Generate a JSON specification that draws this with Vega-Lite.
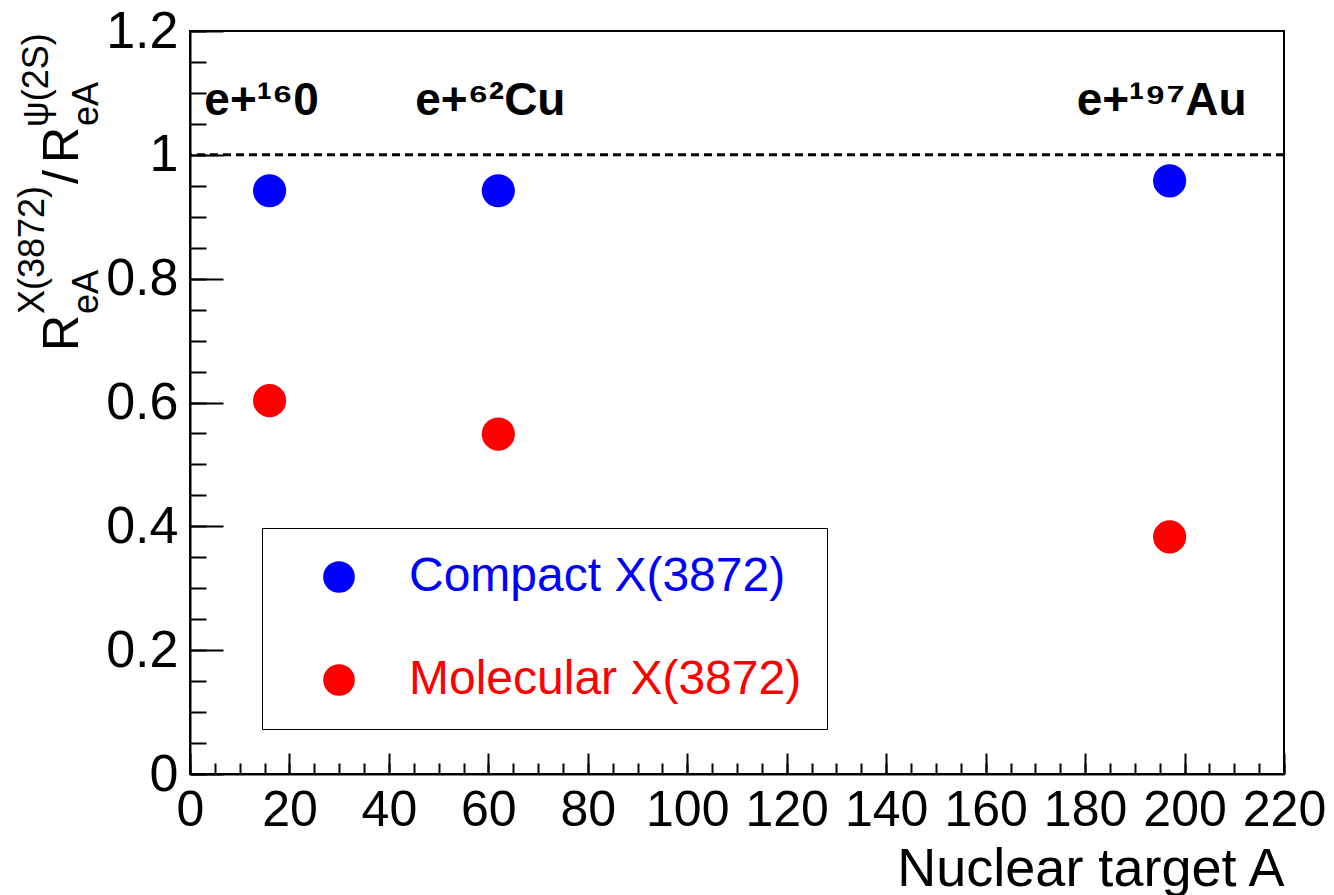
{
  "$schema": "https://vega.github.io/schema/vega-lite/v6.json",
  "width": 1094,
  "height": 743,
  "autosize": {"type": "none"},
  "padding": {"left": 190, "top": 31, "right": 50, "bottom": 121},
  "background": "white",
  "config": {
    "font": "Liberation Sans",
    "view": {"stroke": "black", "strokeWidth": 2},
    "axis": {"grid": false, "domainColor": "black", "domainWidth": 2, "tickColor": "black", "tickWidth": 2, "labelColor": "black", "labelFont": "Liberation Sans", "titleFont": "Liberation Sans", "titleColor": "black", "titleFontWeight": "normal"}
  },
  "datasets": {
    "points": [
      {"A": 16, "ratio": 0.942, "model": "Compact X(3872)"},
      {"A": 62, "ratio": 0.942, "model": "Compact X(3872)"},
      {"A": 197, "ratio": 0.958, "model": "Compact X(3872)"},
      {"A": 16, "ratio": 0.603, "model": "Molecular X(3872)"},
      {"A": 62, "ratio": 0.549, "model": "Molecular X(3872)"},
      {"A": 197, "ratio": 0.383, "model": "Molecular X(3872)"}
    ],
    "targets": [
      {"A": 16, "label": "e+¹⁶0"},
      {"A": 62, "label": "e+⁶²Cu"},
      {"A": 197, "label": "e+¹⁹⁷Au"}
    ]
  },
  "resolve": {"axis": {"x": "independent", "y": "independent"}},
  "layer": [
    {
      "data": {"name": "targets"},
      "mark": {"type": "text", "font": "Liberation Sans", "fontWeight": "bold", "fontSize": 46, "align": "center", "baseline": "alphabetic", "dx": -8, "color": "black"},
      "encoding": {
        "x": {"field": "A", "type": "quantitative", "scale": {"domain": [0, 220], "nice": false, "zero": false},
          "axis": {"orient": "bottom", "values": [0,5,10,15,20,25,30,35,40,45,50,55,60,65,70,75,80,85,90,95,100,105,110,115,120,125,130,135,140,145,150,155,160,165,170,175,180,185,190,195,200,205,210,215,220], "tickSize": -11, "labels": false, "domain": false, "title": null}},
        "y": {"datum": 1.064, "type": "quantitative", "scale": {"domain": [0, 1.2], "nice": false, "zero": false},
          "axis": {"orient": "left", "values": [0,0.05,0.1,0.15,0.2,0.25,0.3,0.35,0.4,0.45,0.5,0.55,0.6,0.65,0.7,0.75,0.8,0.85,0.9,0.95,1,1.05,1.1,1.15,1.2], "tickSize": -16, "labels": false, "domain": false, "title": null}},
        "text": {"field": "label"}
      }
    },
    {
      "data": {"values": [{}]},
      "mark": {"type": "rule", "color": "black", "strokeWidth": 3, "strokeDash": [8, 5]},
      "encoding": {"y": {"datum": 1, "type": "quantitative", "axis": null}}
    },
    {
      "data": {"name": "points"},
      "mark": {"type": "point", "filled": true, "size": 1100, "opacity": 1, "shape": "circle"},
      "encoding": {
        "x": {"field": "A", "type": "quantitative", "scale": {"domain": [0, 220], "nice": false, "zero": false},
          "axis": {"orient": "bottom", "values": [0,20,40,60,80,100,120,140,160,180,200,220], "tickSize": -21, "labelPadding": 32, "labelFontSize": 50, "labelFlush": false, "labelBaseline": "top", "format": "d", "title": "Nuclear target A", "titleFontSize": 54, "titleAnchor": "end", "titleAlign": "right", "titleBaseline": "alphabetic", "titleX": 1094, "titleY": 111}},
        "y": {"field": "ratio", "type": "quantitative", "scale": {"domain": [0, 1.2], "nice": false, "zero": false},
          "axis": {"orient": "left", "values": [0,0.2,0.4,0.6,0.8,1,1.2], "tickSize": -33, "labelPadding": 45, "labelFontSize": 52, "labelFlush": false, "labelBaseline": "middle", "format": "~g", "title": null}},
        "color": {"field": "model", "type": "nominal",
          "scale": {"domain": ["Compact X(3872)", "Molecular X(3872)"], "range": ["#0000ff", "#ff0000"]},
          "legend": {"title": null, "orient": "none", "legendX": 72, "legendY": 497, "strokeColor": "black", "fillColor": "white", "padding": 25, "symbolSize": 1000, "symbolType": "circle", "symbolOffset": 28, "symbolStrokeWidth": 0, "labelOffset": 46, "labelFontSize": 48, "labelFont": "Liberation Sans", "labelLimit": 700, "rowPadding": 55,
            "labelExpr": "datum.label + '\u00a0\u00a0'",
            "labelColor": {"expr": "datum.value == 'Compact X(3872)' ? '#0000ff' : '#ff0000'"}}}
      }
    },
    {
      "data": {"values": [{}]},
      "mark": {"type": "text", "text": "R", "angle": 270, "align": "left", "baseline": "alphabetic", "fontSize": 50, "color": "black", "dx": 0, "dy": 0},
      "encoding": {"x": {"datum": -22.52, "type": "quantitative", "axis": null}, "y": {"datum": 0.6832, "type": "quantitative", "axis": null}}
    },
    {
      "data": {"values": [{}]},
      "mark": {"type": "text", "text": "eA", "angle": 270, "align": "left", "baseline": "alphabetic", "fontSize": 36, "color": "black", "dx": 37, "dy": 20},
      "encoding": {"x": {"datum": -22.52, "type": "quantitative", "axis": null}, "y": {"datum": 0.6832, "type": "quantitative", "axis": null}}
    },
    {
      "data": {"values": [{}]},
      "mark": {"type": "text", "text": "X(3872)", "angle": 270, "align": "left", "baseline": "alphabetic", "fontSize": 36, "color": "black", "dx": 37, "dy": -34},
      "encoding": {"x": {"datum": -22.52, "type": "quantitative", "axis": null}, "y": {"datum": 0.6832, "type": "quantitative", "axis": null}}
    },
    {
      "data": {"values": [{}]},
      "mark": {"type": "text", "text": "/", "angle": 270, "align": "left", "baseline": "alphabetic", "fontSize": 50, "color": "black", "dx": 167, "dy": 0},
      "encoding": {"x": {"datum": -22.52, "type": "quantitative", "axis": null}, "y": {"datum": 0.6832, "type": "quantitative", "axis": null}}
    },
    {
      "data": {"values": [{}]},
      "mark": {"type": "text", "text": "R", "angle": 270, "align": "left", "baseline": "alphabetic", "fontSize": 50, "color": "black", "dx": 188, "dy": 0},
      "encoding": {"x": {"datum": -22.52, "type": "quantitative", "axis": null}, "y": {"datum": 0.6832, "type": "quantitative", "axis": null}}
    },
    {
      "data": {"values": [{}]},
      "mark": {"type": "text", "text": "eA", "angle": 270, "align": "left", "baseline": "alphabetic", "fontSize": 36, "color": "black", "dx": 225, "dy": 20},
      "encoding": {"x": {"datum": -22.52, "type": "quantitative", "axis": null}, "y": {"datum": 0.6832, "type": "quantitative", "axis": null}}
    },
    {
      "data": {"values": [{}]},
      "mark": {"type": "text", "text": "ψ(2S)", "angle": 270, "align": "left", "baseline": "alphabetic", "fontSize": 36, "color": "black", "dx": 224, "dy": -30},
      "encoding": {"x": {"datum": -22.52, "type": "quantitative", "axis": null}, "y": {"datum": 0.6832, "type": "quantitative", "axis": null}}
    }
  ]
}
